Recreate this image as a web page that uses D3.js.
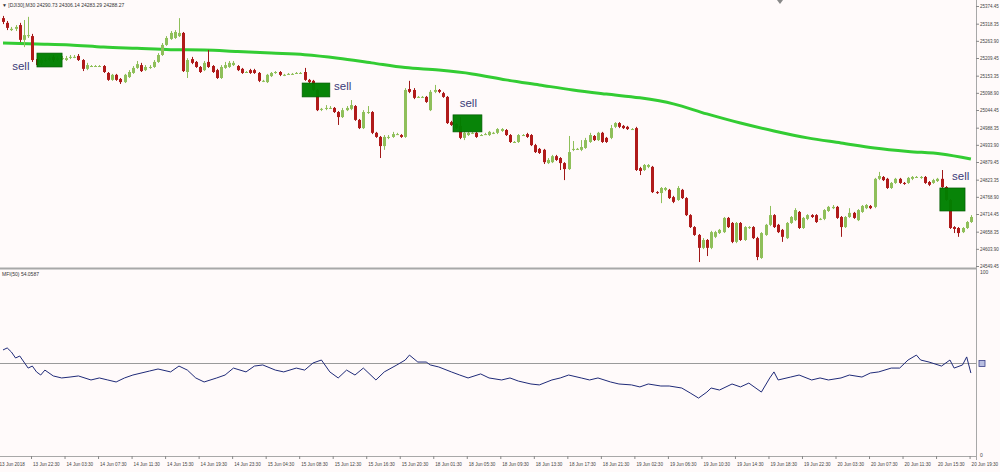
<!DOCTYPE html>
<html><head><meta charset="utf-8">
<script src="https://cdn.jsdelivr.net/npm/d3@7"></script>
<style>html,body{margin:0;padding:0;background:#fffafa;}svg{display:block;}</style>
</head><body>
<svg id="c" width="1000" height="472"></svg>
<script>
const opens=[25336,25321,25298,25302,25314,25267,25279,25279,25206,25194,
25203,25203,25213,25203,25209,25203,25213,25213,25216,25203,
25175,25184,25184,25184,25184,25162,25140,25156,25143,25133,
25149,25162,25178,25187,25171,25181,25181,25197,25219,25251,
25270,25273,25279,25289,25165,25206,25197,25181,25171,25197,
25184,25171,25146,25178,25181,25187,25184,25175,25165,25171,
25171,25162,25137,25133,25152,25162,25165,25156,25159,25159,
25162,25162,25165,25140,25137,25108,25048,25051,25051,25051,
25038,25022,25044,25048,25057,25013,24987,25035,25038,24972,
24959,24930,24956,24959,24968,24965,24959,25111,25108,25086,
25086,25086,25044,25102,25108,25098,25086,25006,25000,24994,
24956,24965,24972,24972,24965,24968,24965,24972,24972,24978,
24981,24965,24943,24943,24965,24968,24965,24933,24921,24918,
24876,24879,24898,24892,24876,24857,24921,24921,24918,24924,
24943,24962,24949,24972,24956,24956,24991,25003,24994,24991,
24984,24987,24860,24854,24864,24864,24784,24781,24791,24791,
24768,24759,24791,24765,24711,24673,24648,24607,24632,24607,
24642,24654,24657,24702,24686,24626,24686,24632,24670,24673,
24638,24575,24648,24680,24711,24680,24664,24638,24686,24695,
24721,24670,24699,24711,24711,24699,24699,24724,24733,24737,
24705,24673,24705,24718,24695,24721,24733,24740,24737,24826,
24832,24826,24797,24813,24826,24813,24813,24826,24832,24829,
24832,24816,24813,24819,24826,24800,24759,24673,24670,24657,
24670,24689];
const closes=[25324,25305,25302,25308,25267,25282,25282,25203,25187,25203,
25203,25209,25203,25209,25209,25209,25213,25213,25203,25175,
25187,25184,25184,25184,25165,25140,25156,25140,25133,25156,
25165,25178,25190,25168,25181,25181,25197,25219,25251,25273,
25289,25292,25289,25168,25203,25194,25181,25165,25194,25181,
25165,25146,25181,25187,25194,25194,25171,25162,25165,25162,
25162,25137,25137,25156,25162,25165,25156,25156,25159,25159,
25162,25162,25140,25133,25108,25044,25048,25051,25051,25038,
25022,25044,25051,25060,25013,24987,25038,25038,24972,24959,
24930,24959,24959,24968,24968,24959,25108,25102,25083,25086,
25086,25070,25102,25108,25102,25086,25003,24997,24987,24956,
24972,24972,24972,24959,24965,24968,24975,24972,24984,24984,
24965,24943,24943,24965,24965,24959,24933,24911,24908,24879,
24886,24898,24886,24876,24857,24911,24921,24921,24927,24949,
24965,24949,24972,24943,24943,24987,25003,24991,24987,24984,
24984,24854,24851,24870,24870,24784,24781,24797,24797,24765,
24753,24797,24765,24711,24673,24648,24607,24632,24607,24657,
24657,24664,24702,24673,24626,24686,24632,24673,24673,24638,
24578,24654,24680,24711,24673,24657,24642,24686,24705,24727,
24670,24702,24711,24705,24689,24699,24727,24737,24737,24702,
24673,24705,24718,24702,24727,24740,24743,24733,24826,24835,
24822,24797,24813,24826,24813,24810,24829,24832,24832,24832,
24813,24807,24822,24826,24800,24759,24670,24667,24654,24670,
24689,24705];
const highs=[25343,25327,25308,25314,25321,25330,25340,25286,25213,25209,
25209,25216,25219,25216,25216,25216,25219,25219,25222,25206,
25194,25187,25187,25187,25187,25165,25159,25159,25146,25159,
25171,25184,25200,25194,25187,25187,25203,25225,25257,25279,
25295,25298,25336,25292,25209,25213,25200,25184,25200,25235,
25187,25175,25187,25197,25200,25200,25187,25178,25168,25175,
25175,25165,25140,25159,25165,25168,25168,25159,25162,25162,
25165,25165,25178,25143,25140,25111,25051,25060,25057,25054,
25041,25051,25057,25076,25060,25016,25044,25057,25041,24975,
24962,24965,24965,24975,24972,24968,25114,25137,25114,25089,
25089,25089,25108,25124,25111,25102,25089,25010,25003,25022,
24978,24975,24975,24975,24968,24972,24978,24975,24987,24987,
24984,24968,24946,24968,24968,24972,24968,24937,24924,24921,
24892,24902,24902,24895,24879,24962,24946,24924,24949,24956,
24972,24965,24975,24975,24959,24997,25006,25006,24997,24994,
24987,24991,24864,24873,24873,24867,24787,24800,24800,24794,
24772,24803,24794,24768,24714,24676,24651,24638,24635,24661,
24661,24667,24705,24705,24689,24689,24689,24676,24676,24676,
24642,24657,24683,24740,24714,24683,24667,24689,24708,24733,
24724,24705,24714,24714,24714,24702,24730,24740,24743,24740,
24708,24708,24733,24721,24730,24743,24746,24743,24829,24848,
24835,24829,24816,24829,24829,24816,24832,24835,24835,24835,
24835,24819,24826,24829,24854,24803,24762,24676,24673,24673,
24692,24711];
const lows=[25317,25298,25295,25295,25260,25244,25273,25197,25181,25187,
25197,25200,25197,25200,25203,25200,25206,25209,25200,25168,
25171,25181,25181,25181,25162,25137,25137,25137,25127,25130,
25146,25159,25175,25165,25168,25175,25178,25194,25216,25248,
25267,25270,25276,25165,25146,25190,25178,25162,25168,25178,
25162,25143,25143,25175,25178,25184,25168,25159,25162,25159,
25159,25133,25133,25130,25149,25159,25152,25152,25156,25156,
25159,25159,25137,25130,25105,25041,25041,25044,25048,25035,
24997,25019,25041,25044,25010,24984,24984,25032,24968,24956,
24892,24918,24952,24956,24965,24956,24956,25098,25079,25083,
25083,25067,25041,25098,25098,25083,25000,24994,24984,24952,
24949,24962,24968,24956,24962,24965,24962,24968,24968,24975,
24962,24940,24940,24940,24962,24956,24930,24908,24905,24873,
24873,24876,24883,24854,24822,24854,24914,24918,24914,24921,
24940,24946,24946,24940,24940,24952,24987,24987,24984,24981,
24981,24851,24838,24851,24860,24781,24778,24749,24787,24762,
24749,24756,24762,24708,24670,24645,24562,24603,24581,24603,
24638,24651,24654,24670,24622,24622,24629,24629,24667,24635,
24568,24572,24645,24676,24670,24654,24626,24635,24683,24692,
24667,24667,24695,24702,24686,24695,24695,24721,24730,24699,
24642,24670,24702,24699,24692,24718,24730,24730,24733,24822,
24819,24794,24794,24810,24810,24807,24810,24822,24829,24826,
24810,24803,24810,24816,24797,24756,24667,24654,24642,24654,
24667,24686];
// moving average sampled at bar indices
const maBars=[0,8,16,24,32,40,48,56,64,72,80,88,96,104,112,120,128,136,144,152,160,168,176,184,192,200,208,216,224,231];
const maValues=[25257,25254,25251,25244,25240,25236,25235,25230,25225,25220,25209,25194,25179,25171,25159,25140,25124,25108,25095,25083,25064,25032,25003,24978,24956,24940,24924,24913,24905,24889];
// MFI(50) readings at bar indices
const mfiBars=[0,1,2,3,4,5,6,7,8,9,10,12,14,16,18,21,23,25,27,29,31,35,37,40,42,44,46,48,51,53,55,58,60,62,65,67,70,72,74,76,78,80,82,84,86,89,91,94,96,97,99,101,102,104,107,109,111,114,116,119,121,123,126,128,131,133,135,138,140,142,145,147,150,152,154,157,159,162,164,166,168,169,171,174,176,178,181,183,184,185,188,190,193,195,197,200,202,205,207,209,212,214,216,218,219,221,224,226,227,229,230,231];
const mfiValues=[57.4,58.5,56.3,53.0,54.1,50.8,47.5,48.6,45.4,43.7,46.4,43.2,42.1,42.6,43.2,41.0,42.1,41.0,39.9,42.1,43.7,45.9,47.0,45.4,48.6,46.4,42.1,39.9,42.1,43.7,47.5,45.4,48.6,49.2,46.4,45.4,47.5,46.4,50.3,51.9,45.4,42.1,46.4,43.7,47.5,41.0,45.4,49.2,51.9,54.6,50.8,50.8,49.2,48.1,45.4,43.7,42.1,44.3,42.1,41.0,42.1,40.4,38.8,38.3,41.0,42.1,43.7,42.1,41.0,42.1,39.9,38.8,38.3,37.2,38.8,37.7,37.7,36.6,33.9,31.1,34.4,36.6,35.5,38.8,37.2,39.3,34.4,42.1,45.4,41.0,42.6,43.7,41.0,42.1,41.0,42.1,43.7,42.6,44.8,45.4,47.5,47.5,51.9,54.6,51.9,50.8,48.6,51.9,47.5,49.2,53.6,44.8];
const sellFrom=[8.1,71.4,107.4,223.6];
const sellTo=[14.1,78.0,114.3,229.6];
const sellHigh=[25225,25130,25029,24797];
const sellLow=[25181,25086,24975,24724];
const sellTextBar=[2.2,79,109,226.5];
const sellTextPrice=[25172,25108,25054,24822];
const priceTicks=[25374.45,25318.35,25263.90,25209.45,25153.35,25098.90,25044.45,24988.35,24933.90,24879.45,24823.35,24768.90,24714.45,24658.35,24603.90,24549.45];
const timeLabels=["13 Jun 2018","13 Jun 22:30","14 Jun 03:30","14 Jun 07:30","14 Jun 11:30","14 Jun 15:30","14 Jun 19:30","14 Jun 23:30","15 Jun 04:30","15 Jun 08:30","15 Jun 12:30","15 Jun 16:30","15 Jun 20:30","18 Jun 01:30","18 Jun 05:30","18 Jun 09:30","18 Jun 13:30","18 Jun 17:30","18 Jun 21:30","19 Jun 02:30","19 Jun 06:30","19 Jun 10:30","19 Jun 14:30","19 Jun 18:30","19 Jun 22:30","20 Jun 03:30","20 Jun 07:30","20 Jun 11:30","20 Jun 15:30","20 Jun 19:30"];
const mfiTicks=[100,0];

const svg=d3.select('#c');
const FONT='"Liberation Sans", Arial, sans-serif';
svg.append('rect').attr('width',1000).attr('height',472).attr('fill','#fffafa');
const x=d3.scaleLinear().domain([0,231]).range([3,3+231*4.19]);
const y=d3.scaleLinear().domain([24549.45,25374.45]).range([266,6]);
const ym=d3.scaleLinear().domain([0,100]).range([455,272]);
const AX=976;

// frames
svg.append('line').attr('x1',0).attr('x2',AX).attr('y1',268.5).attr('y2',268.5).attr('stroke','#a8a8a8').attr('stroke-width',2);
svg.append('line').attr('x1',0).attr('x2',AX).attr('y1',456.5).attr('y2',456.5).attr('stroke','#a8a8a8').attr('stroke-width',1);
svg.append('line').attr('x1',AX+0.5).attr('x2',AX+0.5).attr('y1',0).attr('y2',460).attr('stroke','#a8a8a8').attr('stroke-width',1);

// header
svg.append('text').attr('x',2).attr('y',7).attr('font-family',FONT).attr('font-size',5).attr('fill','#333')
  .text('\u25BC [DJI30],M30  24290.73 24306.14 24283.29 24288.27');

// price axis
const pa=svg.append('g').attr('transform',`translate(${AX},0)`)
  .call(d3.axisRight(y).tickValues(priceTicks).tickSize(3).tickFormat(d=>d.toFixed(2)));
pa.select('.domain').remove();
pa.selectAll('line').attr('stroke','#888');
pa.selectAll('text').attr('font-family',FONT).attr('font-size',4.5).attr('fill','#444').attr('x',4);

// moving average
const maData=maBars.map((b,i)=>({b,v:maValues[i]}));
svg.append('path').datum(maData).attr('fill','none').attr('stroke','#33cc33').attr('stroke-width',3)
  .attr('d',d3.line().x(d=>x(d.b)).y(d=>y(d.v)).curve(d3.curveMonotoneX));

// candles
const bars=d3.range(opens.length).map(i=>({i,o:opens[i],c:closes[i],h:highs[i],l:lows[i]}));
const g=svg.append('g');
g.selectAll('line.w').data(bars).join('line').attr('class','w')
  .attr('x1',d=>Math.round(x(d.i))+0.5).attr('x2',d=>Math.round(x(d.i))+0.5)
  .attr('y1',d=>y(d.h)).attr('y2',d=>y(d.l))
  .attr('stroke',d=>d.c>=d.o?'#8fbf5a':'#a01818').attr('stroke-width',1);
g.selectAll('rect.b').data(bars).join('rect').attr('class','b')
  .attr('x',d=>Math.round(x(d.i))-1).attr('width',3)
  .attr('y',d=>y(Math.max(d.o,d.c)))
  .attr('height',d=>Math.max(1,Math.abs(y(d.o)-y(d.c))))
  .attr('fill',d=>d.c>=d.o?'#8fbf5a':'#b01a1a');

// sell signals
sellFrom.forEach((f,k)=>{
  svg.append('rect').attr('x',x(f)).attr('width',x(sellTo[k])-x(f))
    .attr('y',y(sellHigh[k])).attr('height',y(sellLow[k])-y(sellHigh[k]))
    .attr('fill','#008000').attr('fill-opacity',0.97).attr('stroke','#005a00').attr('stroke-width',0.7);
  svg.append('text').attr('x',x(sellTextBar[k])).attr('y',y(sellTextPrice[k]))
    .attr('font-family',FONT).attr('font-size',11.5).attr('fill','#3a3a78').text('sell');
});

// MFI panel
svg.append('text').attr('x',2).attr('y',276).attr('font-family',FONT).attr('font-size',5).attr('fill','#333').text('MFI(50) 54.0587');
svg.append('line').attr('x1',0).attr('x2',AX).attr('y1',ym(50)).attr('y2',ym(50)).attr('stroke','#9a9a9a').attr('stroke-width',1);
const mfiData=mfiBars.map((b,i)=>({b,v:mfiValues[i]}));
svg.append('path').datum(mfiData).attr('fill','none').attr('stroke','#1f2a78').attr('stroke-width',1)
  .attr('d',d3.line().x(d=>x(d.b)).y(d=>ym(d.v)));
const ma=svg.append('g').attr('transform',`translate(${AX},0)`)
  .call(d3.axisRight(ym).tickValues(mfiTicks).tickSize(0).tickFormat(d3.format('d')));
ma.select('.domain').remove();
ma.selectAll('text').attr('font-family',FONT).attr('font-size',5).attr('fill','#444').attr('x',4);
svg.append('rect').attr('x',AX+3).attr('y',ym(50)-3).attr('width',6).attr('height',6).attr('fill','#b8bde0').attr('stroke','#3a3f88').attr('stroke-width',0.8);

// time axis
const tg=svg.append('g');
timeLabels.forEach((t,k)=>{
  const xx=x(k*8)-3.5;
  tg.append('line').attr('x1',xx-1.5).attr('x2',xx-1.5).attr('y1',456).attr('y2',459).attr('stroke','#888');
  tg.append('text').attr('x',xx).attr('y',466).attr('font-family',FONT).attr('font-size',4.6).attr('fill','#444').text(t);
});
// scroll marker
svg.append('path').attr('d','M777,0 L783,0 L780,4 Z').attr('fill','#888');
</script>
</body></html>
